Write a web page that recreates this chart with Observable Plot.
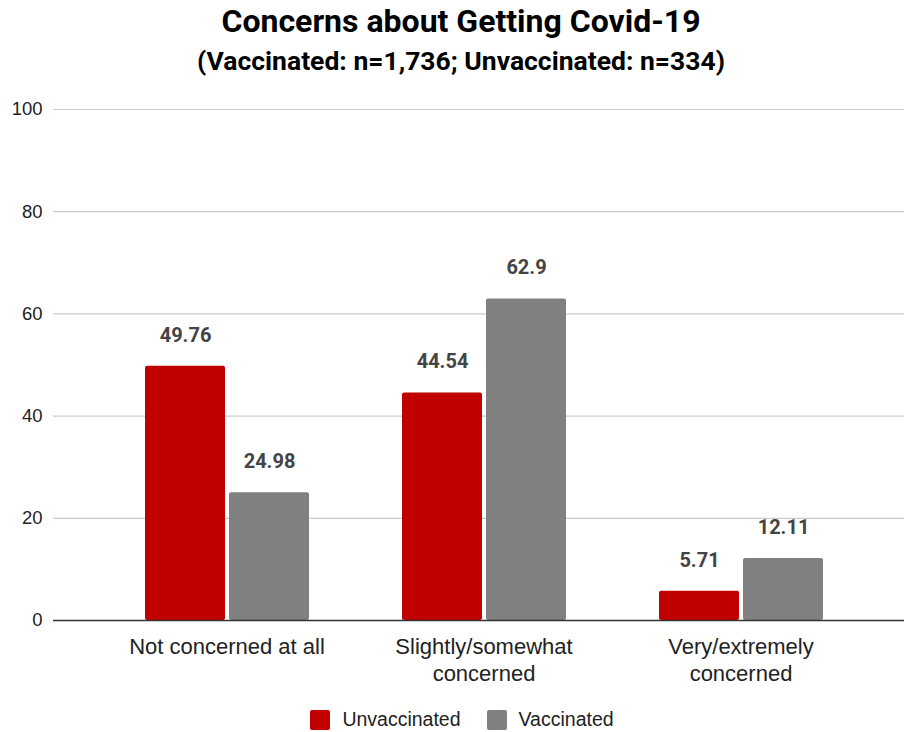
<!DOCTYPE html>
<html>
<head>
<meta charset="utf-8">
<script src="https://cdn.jsdelivr.net/npm/d3@7"></script>
<script src="https://cdn.jsdelivr.net/npm/@observablehq/plot@0.6"></script>
<style>
  html, body { margin: 0; padding: 0; background: #fff; }
  #chart { position: relative; width: 904px; height: 732px; font-family: Roboto, "Noto Sans", sans-serif; overflow: hidden; }
  #chart .layer { position: absolute; left: 0; top: 0; }
  .title { position: absolute; left: 0; width: 904px; text-align: center; font-weight: 700; color: #000; white-space: nowrap; line-height: 1; }
  #t1 { top: 5px; font-size: 32px; padding-left: 18px; box-sizing: border-box; }
  #t2 { top: 48px; font-size: 26.5px; padding-left: 18px; box-sizing: border-box; }
  #legend { position: absolute; top: 708px; left: 0; width: 904px; display: flex; justify-content: center; gap: 26px; font-family: Arial, "Liberation Sans", sans-serif; font-size: 19.5px; color: #222; padding-left: 20px; box-sizing: border-box; }
  #legend .item { display: flex; align-items: center; gap: 12px; }
  #legend .sw { width: 20px; height: 20px; border-radius: 2px; }
</style>
</head>
<body>
<div id="chart">
  <div class="title" id="t1">Concerns about Getting Covid-19</div>
  <div class="title" id="t2">(Vaccinated: n=1,736; Unvaccinated: n=334)</div>
  <div id="legend"></div>
</div>
<script>
// Survey responses (% of respondents) by vaccination status
const categories = ["Not concerned at all", "Slightly/somewhat concerned", "Very/extremely concerned"];
const categoryLabels = ["Not concerned at all", "Slightly/somewhat\nconcerned", "Very/extremely\nconcerned"];
const groups = ["Unvaccinated", "Vaccinated"];
const unvaccinated = [49.76, 44.54, 5.71];
const vaccinated = [24.98, 62.9, 12.11];
const yTicks = [0, 20, 40, 60, 80, 100];
const colors = ["#c00000", "#808080"];

const data = categories.flatMap((c, i) => [
  {category: c, group: groups[0], value: unvaccinated[i]},
  {category: c, group: groups[1], value: vaccinated[i]}
]);
const labelRows = categories.map((c, i) => ({category: c, label: categoryLabels[i]}));

const W = 904, H = 732, padTop = 109, padBottom = H - 620;
const font = "Roboto, 'Noto Sans', sans-serif";
const sans = "Arial, 'Liberation Sans', sans-serif";

// Background: value axis and gridlines across the whole chart area
const back = Plot.plot({
  width: W, height: H,
  marginTop: padTop, marginBottom: padBottom, marginLeft: 53, marginRight: 0,
  style: {fontFamily: sans, background: "transparent", overflow: "visible"},
  y: {domain: [0, 100], axis: null},
  marks: [
    Plot.ruleY(yTicks.filter(d => d > 0), {stroke: "#cccccc", strokeWidth: 1.2}),
    Plot.text(yTicks, {y: d => d, text: d => String(d), frameAnchor: "left", dx: -11, textAnchor: "end", fontSize: 18.5, fill: "#222"}),
  ]
});

// Foreground: grouped bars, one facet per concern level
const front = Plot.plot({
  width: W, height: H,
  marginTop: padTop, marginBottom: padBottom, marginLeft: 97, marginRight: 35,
  style: {fontFamily: font, background: "transparent", overflow: "visible"},
  fx: {domain: categories, padding: 0, axis: null},
  x: {domain: groups, paddingInner: 0.05, paddingOuter: 0.54, axis: null},
  y: {domain: [0, 100], axis: null},
  color: {domain: groups, range: colors},
  marks: [
    Plot.barY(data, {fx: "category", x: "group", y: "value", fill: "group", rx: 2}),
    Plot.text(data, {fx: "category", x: "group", y: "value", text: d => String(d.value), dy: -31, fontSize: 20, fontWeight: "bold", fill: "#444"}),
    Plot.text(labelRows, {fx: "category", text: "label", frameAnchor: "bottom", lineAnchor: "top", dy: 14, fontSize: 22, lineHeight: 1.23, fill: "#222", fontFamily: sans})
  ]
});

// Baseline drawn on top of the bars
const base = Plot.plot({
  width: W, height: H,
  marginTop: padTop, marginBottom: padBottom, marginLeft: 53, marginRight: 0,
  style: {background: "transparent"},
  y: {domain: [0, 100], axis: null},
  marks: [Plot.ruleY([0], {stroke: "#333", strokeWidth: 1.5})]
});

const chart = document.getElementById("chart");
for (const svg of [back, front, base]) {
  svg.classList.add("layer");
  chart.appendChild(svg);
}

const legend = document.getElementById("legend");
groups.forEach((g, i) => {
  const item = document.createElement("div");
  item.className = "item";
  const sw = document.createElement("span");
  sw.className = "sw";
  sw.style.background = colors[i];
  const lab = document.createElement("span");
  lab.textContent = g;
  item.append(sw, lab);
  legend.appendChild(item);
});
</script>
</body>
</html>
